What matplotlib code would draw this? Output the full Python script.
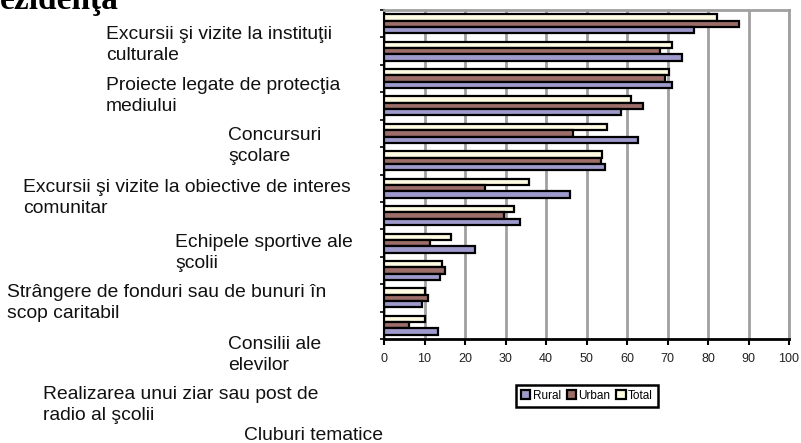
import matplotlib
matplotlib.use('Agg')
import matplotlib.pyplot as plt
import numpy as np

plt.rcParams['font.family'] = ['Liberation Sans', 'DejaVu Sans']

# Values per activity group, from top to bottom of the chart
rural = [76.5, 73.7, 71.1, 58.4, 62.8, 54.6, 45.9, 33.7, 22.4, 13.9, 9.5, 13.4]
urban = [87.6, 68.2, 69.5, 64.0, 46.7, 53.5, 24.9, 29.7, 11.3, 15.1, 10.8, 6.2]
total = [82.1, 71.1, 70.4, 61.1, 55.1, 53.9, 35.9, 32.0, 16.6, 14.4, 10.1, 10.1]

series_names = ['Rural', 'Urban', 'Total']
series_colors = ['#9e9acb', '#9c6d69', '#fffce3']

# Activity labels, as they stand (offset) in the scanned page
labels = [
    'Excursii şi vizite la instituţii\nculturale',
    'Proiecte legate de protecţia\nmediului',
    'Concursuri\nşcolare',
    'Excursii şi vizite la obiective de interes\ncomunitar',
    'Echipele sportive ale\nşcolii',
    'Strângere de fonduri sau de bunuri în\nscop caritabil',
    'Consilii ale\nelevilor',
    'Realizarea unui ziar sau post de\nradio al şcolii',
    'Cluburi tematice',
]
label_pos = [(106, 45), (106, 96), (228, 146), (23, 198), (175, 253),
             (7, 303), (228, 355), (43, 405), (244, 436)]

xticks = list(range(0, 101, 10))

W, H = 801, 443
fig = plt.figure(figsize=(W / 100, H / 100), dpi=100)
ax = fig.add_axes([384 / W, 1 - 339 / H, (789 - 384) / W, (339 - 10) / H])

n = len(rural)
c = np.arange(n) + 0.5
h = 0.23
for vals, off, name, col in [(total, -h, 'Total', series_colors[2]),
                             (urban, 0, 'Urban', series_colors[1]),
                             (rural, h, 'Rural', series_colors[0])]:
    ax.barh(c + off, vals, height=h, color=col, edgecolor='black',
            linewidth=1.6, label=name, zorder=3)

ax.set_xlim(0, 100)
ax.set_ylim(n, 0)
ax.set_xticks(xticks)
ax.set_xticklabels([str(t) for t in xticks], fontsize=9, color='#222222')
ax.set_yticks(np.arange(n + 1))
ax.set_yticklabels([])
ax.tick_params(axis='x', direction='out', length=4, width=1.5, pad=6)
ax.tick_params(axis='y', direction='out', length=3, width=1.2)
ax.grid(axis='x', color='#a0a0a0', linewidth=2, zorder=0)
ax.grid(axis='y', visible=False)
ax.spines['left'].set_linewidth(1.5)
ax.spines['bottom'].set_linewidth(2)
ax.spines['top'].set_color('#a0a0a0')
ax.spines['top'].set_linewidth(2)
ax.spines['right'].set_color('#a0a0a0')
ax.spines['right'].set_linewidth(2)

handles, names = ax.get_legend_handles_labels()
order = [names.index(s) for s in series_names]
leg = fig.legend([handles[i] for i in order], [names[i] for i in order],
                 loc='center', bbox_to_anchor=(587 / W, 1 - 396 / H), ncol=3,
                 fontsize=8.5, handlelength=0.8, handleheight=0.8,
                 handletextpad=0.2, columnspacing=0.5, borderpad=0.45,
                 fancybox=False, framealpha=1)
leg.get_frame().set_edgecolor('black')
leg.get_frame().set_linewidth(1.8)

for txt, (px, py) in zip(labels, label_pos):
    fig.text(px / W, 1 - py / H, txt, fontsize=13.9,
             ha='left', va='center', linespacing=1.25, color='#111111')

fig.text(0, 1 - 9 / H, 'ezidenţa', fontsize=24, family='Liberation Serif',
         weight='bold', ha='left', va='baseline')

fig.savefig('out.png', dpi=100)
